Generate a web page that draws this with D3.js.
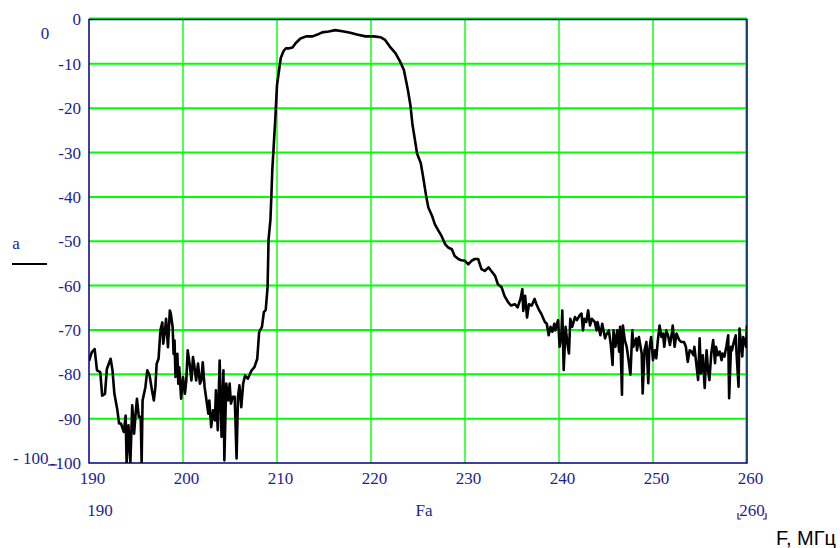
<!DOCTYPE html>
<html>
<head>
<meta charset="utf-8">
<script src="https://cdn.jsdelivr.net/npm/d3@7"></script>
<style>
  body { margin: 0; background: #fff; }
  svg { display: block; }
</style>
</head>
<body>
<svg id="chart" width="840" height="548"></svg>
<script>
// frequency, MHz
var freq = [
  190.0, 190.3, 190.6, 190.85, 191.2, 191.4, 191.7, 191.9, 192.3, 192.5, 192.7, 193.0, 193.2, 193.4, 193.7, 193.9,
  194.0, 194.2, 194.4, 194.6, 194.8, 194.96, 195.1, 195.3, 195.5, 195.6, 195.7, 196.0, 196.2, 196.45, 196.7, 196.9,
  197.06, 197.2, 197.4, 197.6, 197.8, 197.9, 198.1, 198.2, 198.4, 198.6, 198.7, 198.9, 199.0, 199.1, 199.2, 199.4,
  199.5, 199.6, 199.8, 200.0, 200.2, 200.35, 200.5, 200.7, 200.9, 201.06, 201.2, 201.4, 201.6, 201.8, 201.95, 202.1,
  202.3, 202.5, 202.7, 202.8, 203.0, 203.2, 203.4, 203.5, 203.7, 203.9, 204.1, 204.3, 204.4, 204.6, 204.8, 204.96,
  205.1, 205.3, 205.5, 205.7, 205.85, 206.0, 206.2, 206.4, 206.6, 206.9, 207.3, 207.6, 207.9, 208.1, 208.4, 208.6,
  208.8, 209.0, 209.1, 209.3, 209.4, 209.5, 209.65, 209.8, 210.0, 210.25, 210.4, 210.7, 210.95, 211.3, 211.65, 212.0,
  212.5, 213.1, 213.8, 214.3, 214.8, 215.5, 216.2, 217.1, 217.8, 218.5, 219.4, 220.3, 221.0, 221.5, 222.0, 222.6,
  223.1, 223.5, 223.9, 224.2, 224.4, 224.7, 224.9, 225.3, 225.6, 225.85, 226.1, 226.5, 226.8, 227.2, 227.5, 227.9,
  228.2, 228.6, 228.9, 229.3, 229.6, 230.0, 230.35, 230.7, 231.05, 231.4, 231.75, 232.1, 232.5, 232.8, 233.2, 233.5,
  233.9, 234.2, 234.6, 234.9, 235.3, 235.6, 235.9, 236.1, 236.2, 236.4, 236.6, 236.8, 237.1, 237.4, 237.6, 237.9,
  238.1, 238.5, 238.7, 238.9, 239.1, 239.3, 239.5, 239.6, 239.9, 240.07, 240.25, 240.35, 240.5, 240.7, 240.9, 241.06,
  241.2, 241.4, 241.7, 241.9, 242.2, 242.4, 242.55, 242.7, 242.9, 243.1, 243.3, 243.5, 243.8, 244.0, 244.1, 244.4,
  244.6, 244.9, 245.0, 245.3, 245.5, 245.7, 245.8, 246.0, 246.2, 246.4, 246.5, 246.7, 246.8, 247.0, 247.2, 247.4,
  247.6, 247.8, 247.9, 248.2, 248.3, 248.5, 248.8, 248.9, 249.1, 249.3, 249.5, 249.6, 249.8, 250.0, 250.2, 250.35,
  250.5, 250.7, 250.9, 251.06, 251.2, 251.4, 251.6, 251.8, 251.95, 252.1, 252.3, 252.5, 252.8, 253.0, 253.3, 253.5,
  253.7, 253.9, 254.1, 254.3, 254.4, 254.6, 254.8, 254.96, 255.1, 255.3, 255.5, 255.7, 255.85, 256.0, 256.2, 256.4,
  256.6, 256.7, 256.9, 257.1, 257.3, 257.4, 257.6, 257.8, 258.0, 258.1, 258.3, 258.4, 258.6, 258.8, 258.9, 259.1,
  259.2, 259.5, 259.6, 259.9, 260.0
];

// attenuation, dB
var atten = [
  -77, -75, -74.3, -79.1, -79.5, -84.8, -84.4, -78.8, -76.5, -79.1, -84.4, -87.8, -91.1, -91.1, -93, -89.3,
  -100, -91.5, -100, -87, -93.4, -88.9, -85.5, -89.6, -89.6, -100, -85.9, -82.9, -79.1, -80.3, -83.6, -85.9,
  -82.9, -77.6, -76.5, -70.1, -68.3, -73.1, -69.8, -67.5, -73.9, -65.6, -66.3, -69.4, -75.4, -72.4, -80.6, -75.4,
  -82.1, -78.4, -85.5, -80.6, -84.4, -81.4, -74.6, -77.6, -81.4, -76.1, -78, -81.4, -77.6, -82.1, -81.4, -77.3,
  -82.9, -85.9, -88.9, -85.9, -91.9, -88.1, -90.4, -83.6, -92.6, -76.9, -94.1, -79.1, -99.4, -82.1, -85.9, -82.1,
  -86.6, -85.1, -85.1, -99, -85.1, -82.5, -87.4, -82.1, -80.3, -81, -79.1, -78.4, -76.5, -70.5, -69.3, -66,
  -65.5, -60.3, -49.7, -45.2, -39.9, -33.9, -28.5, -23.2, -14.8, -11, -8.7, -7.1, -6.5, -6.5, -6.3, -5.3,
  -4.3, -3.8, -3.8, -3.4, -2.9, -2.7, -2.4, -2.7, -3, -3.4, -3.8, -3.8, -4, -4.6, -6.1, -7.6,
  -9.5, -11.4, -15.6, -19.4, -23.5, -27.5, -30.2, -32.4, -36.2, -39.6, -42.4, -44.3, -46.2, -47.7, -48.8, -50.7,
  -51.4, -51.8, -53.3, -54, -54.3, -54.4, -55.2, -54.4, -54, -54, -56.3, -56.7, -55.9, -56.7, -57.8, -59.7,
  -60.4, -62.3, -63.8, -64.5, -64.2, -64.9, -63, -60.8, -65.7, -62.3, -67.2, -64.2, -64.5, -63, -64.2, -65.6,
  -66.3, -68.2, -68.6, -71.2, -69.3, -70.4, -68.6, -70.1, -67.8, -73.8, -71.2, -65.6, -79, -69.3, -73.1, -75.3,
  -67.5, -69.3, -67.1, -67.8, -66.7, -66.3, -70.1, -67.5, -68.2, -65.6, -69, -67.5, -68.2, -70.1, -68.2, -71.2,
  -68.6, -71.9, -71.2, -70.1, -73.1, -77.9, -70.1, -73.8, -70.1, -74.9, -69.3, -84.6, -69, -72.3, -73.8, -76.8,
  -80.1, -70.1, -73.8, -71.9, -74.6, -71.6, -75.3, -84.3, -74.6, -72.7, -82, -74.6, -71.6, -76.8, -74.6, -76.4,
  -72.7, -69, -71.6, -70.8, -73.8, -70.1, -71.2, -73.4, -71.6, -69, -73.8, -70.8, -72.3, -72.7, -72.7, -73.8,
  -77.2, -74.6, -74.9, -75.7, -73.8, -77.5, -81.3, -71.9, -79.8, -75.7, -83.1, -74.6, -79, -81.3, -75.3, -72.3,
  -77.5, -73.8, -75.7, -74.9, -76.8, -75.3, -76, -73.8, -71.2, -85.4, -73.8, -74.6, -72.7, -71.2, -75.7, -82.8,
  -69.7, -76, -71.6, -73.8, -69
];

var xTicks = [190, 200, 210, 220, 230, 240, 250, 260];
var yTicks = [0, -10, -20, -30, -40, -50, -60, -70, -80, -90, -100];

var navy = '#000080';
var labelColor = '#1e1e8c';
var gridColor = '#00ff00';

var svg = d3.select('#chart');

var x = d3.scaleLinear().domain([190, 260]).range([89, 747]);
var y = d3.scaleLinear().domain([-100, 0]).range([463, 19.5]);

// clip
svg.append('clipPath').attr('id', 'plot-clip')
  .append('rect')
  .attr('x', x(190)).attr('y', y(0))
  .attr('width', x(260) - x(190)).attr('height', y(-100) - y(0));

// grid
svg.append('g').selectAll('line')
  .data(yTicks.filter(function (d) { return d > -100; }))
  .enter().append('line')
  .attr('x1', x(190)).attr('x2', x(260))
  .attr('y1', function (d) { return y(d) - (d === 0 ? 1 : 0); })
  .attr('y2', function (d) { return y(d) - (d === 0 ? 1 : 0); })
  .attr('stroke', gridColor).attr('stroke-width', 2);

svg.append('g').selectAll('line')
  .data(xTicks.filter(function (d) { return d > 190; }))
  .enter().append('line')
  .attr('x1', function (d) { return x(d) - (d === 260 ? 1 : 0); })
  .attr('x2', function (d) { return x(d) - (d === 260 ? 1 : 0); })
  .attr('y1', y(0)).attr('y2', y(-100))
  .attr('stroke', gridColor).attr('stroke-width', 1.4);

// frame
svg.append('rect')
  .attr('x', x(190)).attr('y', y(0))
  .attr('width', x(260) - x(190)).attr('height', y(-100) - y(0))
  .attr('fill', 'none').attr('stroke', navy).attr('stroke-width', 1.5);

// curve
var line = d3.line()
  .x(function (d, i) { return x(freq[i]); })
  .y(function (d) { return y(d); });

svg.append('path')
  .datum(atten)
  .attr('clip-path', 'url(#plot-clip)')
  .attr('d', line)
  .attr('fill', 'none')
  .attr('stroke', '#000')
  .attr('stroke-width', 2.6)
  .attr('stroke-linejoin', 'round');

// axes
var xAxis = svg.append('g')
  .attr('transform', 'translate(0,' + y(-100) + ')')
  .call(d3.axisBottom(x).tickValues(xTicks).tickSize(0).tickFormat(d3.format('d')));
xAxis.select('.domain').remove();
xAxis.selectAll('text')
  .attr('x', 3).attr('y', 9)
  .attr('fill', labelColor)
  .style('font-family', '"Liberation Serif", serif')
  .style('font-size', '17px');

var yAxis = svg.append('g')
  .attr('transform', 'translate(' + x(190) + ',0)')
  .call(d3.axisLeft(y).tickValues(yTicks).tickSize(0).tickPadding(8).tickFormat(function (d) { return d === 0 ? '0' : '-' + Math.abs(d); }));
yAxis.select('.domain').remove();
yAxis.selectAll('text')
  .attr('fill', labelColor)
  .style('font-family', '"Liberation Serif", serif')
  .style('font-size', '17px');

// extra labels
var serif = function (sel) {
  return sel.attr('fill', labelColor)
    .style('font-family', '"Liberation Serif", serif')
    .style('font-size', '17px');
};

serif(svg.append('text').attr('x', 45).attr('y', 39).attr('text-anchor', 'middle').text('0'));
serif(svg.append('text').attr('x', 13).attr('y', 464).text('- 100'));
svg.append('line').attr('x1', 48).attr('x2', 57).attr('y1', 465).attr('y2', 465)
  .attr('stroke', labelColor).attr('stroke-width', 1.2);

serif(svg.append('text').attr('x', 16).attr('y', 249).attr('text-anchor', 'middle').text('a'));
svg.append('line').attr('x1', 12).attr('x2', 47).attr('y1', 264).attr('y2', 264)
  .attr('stroke', '#000').attr('stroke-width', 2);

serif(svg.append('text').attr('x', 100).attr('y', 516).attr('text-anchor', 'middle').text('190'));
serif(svg.append('text').attr('x', 424).attr('y', 516).attr('text-anchor', 'middle').text('Fa'));
serif(svg.append('text').attr('x', 752).attr('y', 516).attr('text-anchor', 'middle').text('260'));
svg.append('path')
  .attr('d', 'M738,513 L738,519 L741,519 M766,513 L766,519 L763,519')
  .attr('fill', 'none').attr('stroke', labelColor).attr('stroke-width', 1.2);

svg.append('text')
  .attr('x', 836).attr('y', 545)
  .attr('text-anchor', 'end')
  .attr('fill', '#000')
  .style('font-family', '"Liberation Sans", Arial, sans-serif')
  .style('font-size', '20px')
  .text('F, МГц');
</script>
</body>
</html>
